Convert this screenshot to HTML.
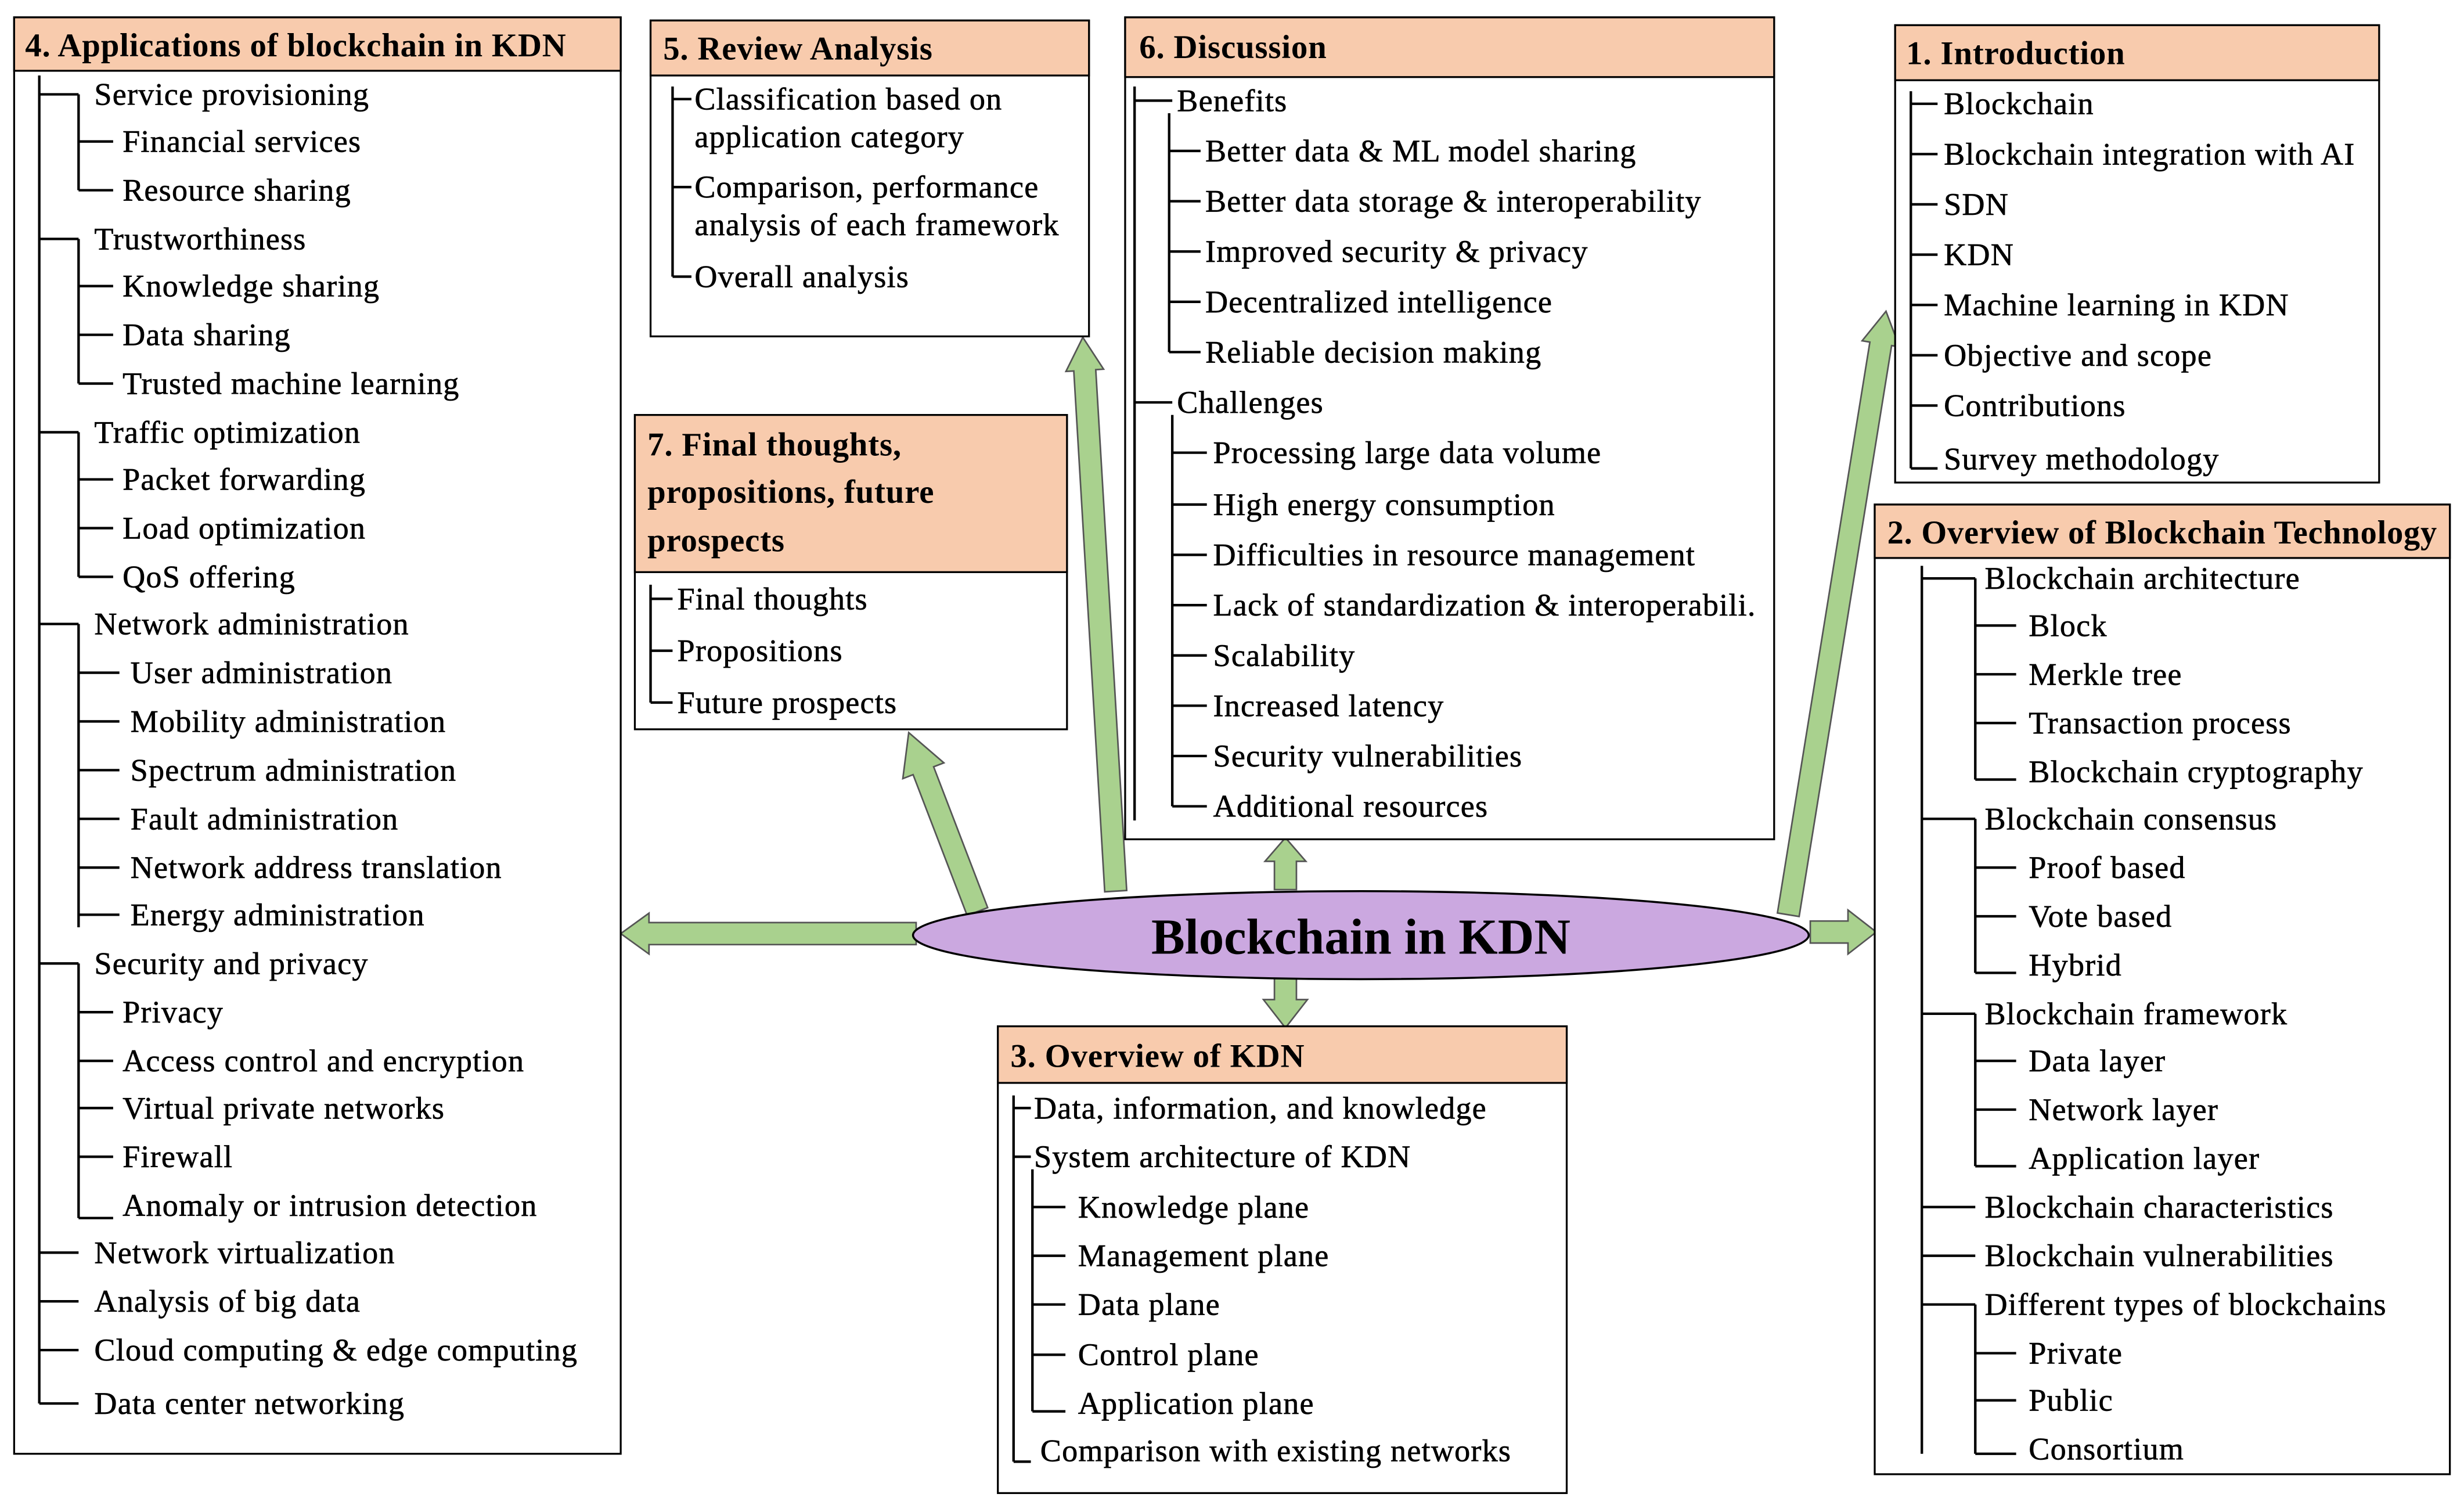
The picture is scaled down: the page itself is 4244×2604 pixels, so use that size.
<!DOCTYPE html>
<html><head><meta charset="utf-8"><style>
html,body{margin:0;padding:0;background:#fff}
svg{display:block}
text{font-family:"Liberation Serif",serif;fill:#000}
.t{font-size:20px;letter-spacing:0.45px;dominant-baseline:central;stroke:#000;stroke-width:0.25}
.h{font-size:21px;letter-spacing:0.3px;font-weight:bold;dominant-baseline:central}
.l{stroke:#000;stroke-width:1.6;fill:none}
.box{fill:#fff;stroke:#000;stroke-width:1.2}
.hd{fill:#f8cbad;stroke:#000;stroke-width:1.2}
.ar{fill:#a9d18e;stroke:#555;stroke-width:1}
</style></head><body>
<svg width="4244" height="2604" viewBox="0 0 1568 962" xmlns="http://www.w3.org/2000/svg">
<g>
<g transform="translate(583,594) rotate(180)"><polygon class="ar" points="0,-7 170,-7 170,-13 188,0 170,13 170,7 0,7"/></g>
<g transform="translate(1152,593)"><polygon class="ar" points="0,-7 24,-7 24,-14 42,0 24,14 24,7 0,7"/></g>
<g transform="translate(818,566) rotate(-90)"><polygon class="ar" points="0,-7 18,-7 18,-13 33,0 18,13 18,7 0,7"/></g>
<g transform="translate(818,622) rotate(90)"><polygon class="ar" points="0,-7 14,-7 14,-14 32,0 14,14 14,7 0,7"/></g>
<g transform="translate(622,580) rotate(-111)"><polygon class="ar" points="0,-7 96,-7 96,-14 122,0 96,14 96,7 0,7"/></g>
<g transform="translate(710,567) rotate(-93.4)"><polygon class="ar" points="0,-7 332,-7 332,-12 353,0 332,12 332,7 0,7"/></g>
<g transform="translate(1138,582) rotate(-80.8)"><polygon class="ar" points="0,-7 368,-7 368,-12 389,0 368,12 368,7 0,7"/></g>
</g>
<ellipse cx="866" cy="595" rx="285" ry="28" fill="#cba8e0" stroke="#000" stroke-width="1.3"/>
<text x="866" y="596" text-anchor="middle" style="font-size:32px;font-weight:bold;dominant-baseline:central">Blockchain in KDN</text>

<rect class="box" x="9" y="11" width="386" height="914"/>
<rect class="hd" x="9" y="11" width="386" height="34"/>
<text class="h" x="16" y="29">4. Applications of blockchain in KDN</text>
<path class="l" d="M25 48V893 M25 60H50 M50 60V121 M50 90H72 M50 121H72
M25 152H50 M50 152V244 M50 182H72 M50 213H72 M50 244H72
M25 275H50 M50 275V367 M50 305H72 M50 336H72 M50 367H72
M25 397H50 M50 397V590 M50 428H76 M50 459H76 M50 490H76 M50 521H76 M50 552H76 M50 582H76
M25 613H50 M50 613V775 M50 644H72 M50 675H72 M50 705H72 M50 736H72 M50 775H72
M25 797H50 M25 828H50 M25 859H50 M25 893H50"/>
<text class="t" x="60" y="60">Service provisioning</text>
<text class="t" x="78" y="90">Financial services</text>
<text class="t" x="78" y="121">Resource sharing</text>
<text class="t" x="60" y="152">Trustworthiness</text>
<text class="t" x="78" y="182">Knowledge sharing</text>
<text class="t" x="78" y="213">Data sharing</text>
<text class="t" x="78" y="244">Trusted machine learning</text>
<text class="t" x="60" y="275">Traffic optimization</text>
<text class="t" x="78" y="305">Packet forwarding</text>
<text class="t" x="78" y="336">Load optimization</text>
<text class="t" x="78" y="367">QoS offering</text>
<text class="t" x="60" y="397">Network administration</text>
<text class="t" x="83" y="428">User administration</text>
<text class="t" x="83" y="459">Mobility administration</text>
<text class="t" x="83" y="490">Spectrum administration</text>
<text class="t" x="83" y="521">Fault administration</text>
<text class="t" x="83" y="552">Network address translation</text>
<text class="t" x="83" y="582">Energy administration</text>
<text class="t" x="60" y="613">Security and privacy</text>
<text class="t" x="78" y="644">Privacy</text>
<text class="t" x="78" y="675">Access control and encryption</text>
<text class="t" x="78" y="705">Virtual private networks</text>
<text class="t" x="78" y="736">Firewall</text>
<text class="t" x="78" y="767">Anomaly or intrusion detection</text>
<text class="t" x="60" y="797">Network virtualization</text>
<text class="t" x="60" y="828">Analysis of big data</text>
<text class="t" x="60" y="859">Cloud computing &amp; edge computing</text>
<text class="t" x="60" y="893">Data center networking</text>

<rect class="box" x="414" y="13" width="279" height="201"/>
<rect class="hd" x="414" y="13" width="279" height="35"/>
<text class="h" x="422" y="31">5. Review Analysis</text>
<path class="l" d="M428 55V176 M428 63H440 M428 119H440 M428 176H440"/>
<text class="t" x="442" y="63">Classification based on</text>
<text class="t" x="442" y="87">application category</text>
<text class="t" x="442" y="119">Comparison, performance</text>
<text class="t" x="442" y="143">analysis of each framework</text>
<text class="t" x="442" y="176">Overall analysis</text>

<rect class="box" x="404" y="264" width="275" height="200"/>
<rect class="hd" x="404" y="264" width="275" height="100"/>
<text class="h" x="412" y="283">7. Final thoughts,</text>
<text class="h" x="412" y="313">propositions, future</text>
<text class="h" x="412" y="344">prospects</text>
<path class="l" d="M414 372V447 M414 381H428 M414 414H428 M414 447H428"/>
<text class="t" x="431" y="381">Final thoughts</text>
<text class="t" x="431" y="414">Propositions</text>
<text class="t" x="431" y="447">Future prospects</text>

<rect class="box" x="716" y="11" width="413" height="523"/>
<rect class="hd" x="716" y="11" width="413" height="38"/>
<text class="h" x="725" y="30">6. Discussion</text>
<path class="l" d="M722 55V522 M722 64H746 M722 256H746
M744 72V224 M744 96H764 M744 128H764 M744 160H764 M744 192H764 M744 224H764
M746 264V513 M746 288H768 M746 321H768 M746 353H768 M746 385H768 M746 417H768 M746 449H768 M746 481H768 M746 513H768"/>
<text class="t" x="749" y="64">Benefits</text>
<text class="t" x="767" y="96">Better data &amp; ML model sharing</text>
<text class="t" x="767" y="128">Better data storage &amp; interoperability</text>
<text class="t" x="767" y="160">Improved security &amp; privacy</text>
<text class="t" x="767" y="192">Decentralized intelligence</text>
<text class="t" x="767" y="224">Reliable decision making</text>
<text class="t" x="749" y="256">Challenges</text>
<text class="t" x="772" y="288">Processing large data volume</text>
<text class="t" x="772" y="321">High energy consumption</text>
<text class="t" x="772" y="353">Difficulties in resource management</text>
<text class="t" x="772" y="385">Lack of standardization &amp; interoperabili.</text>
<text class="t" x="772" y="417">Scalability</text>
<text class="t" x="772" y="449">Increased latency</text>
<text class="t" x="772" y="481">Security vulnerabilities</text>
<text class="t" x="772" y="513">Additional resources</text>

<rect class="box" x="1206" y="16" width="308" height="291"/>
<rect class="hd" x="1206" y="16" width="308" height="35"/>
<text class="h" x="1213" y="34">1. Introduction</text>
<path class="l" d="M1216 58V298 M1216 66H1233 M1216 98H1233 M1216 130H1233 M1216 162H1233 M1216 194H1233 M1216 226H1233 M1216 258H1233 M1216 298H1233"/>
<text class="t" x="1237" y="66">Blockchain</text>
<text class="t" x="1237" y="98">Blockchain integration with AI</text>
<text class="t" x="1237" y="130">SDN</text>
<text class="t" x="1237" y="162">KDN</text>
<text class="t" x="1237" y="194">Machine learning in KDN</text>
<text class="t" x="1237" y="226">Objective and scope</text>
<text class="t" x="1237" y="258">Contributions</text>
<text class="t" x="1237" y="292">Survey methodology</text>

<rect class="box" x="1193" y="321" width="366" height="617"/>
<rect class="hd" x="1193" y="321" width="366" height="34"/>
<text class="h" x="1201" y="339" textLength="350" lengthAdjust="spacingAndGlyphs">2. Overview of Blockchain Technology</text>
<path class="l" d="M1223 360V925 M1223 368H1257 M1257 368V496 M1257 398H1283 M1257 429H1283 M1257 460H1283 M1257 496H1283
M1223 521H1257 M1257 521V619 M1257 552H1283 M1257 583H1283 M1257 619H1283
M1223 645H1257 M1257 645V742 M1257 675H1283 M1257 706H1283 M1257 742H1283
M1223 768H1257 M1223 799H1257 M1223 830H1257 M1257 830V925 M1257 861H1283 M1257 891H1283 M1257 925H1283"/>
<text class="t" x="1263" y="368">Blockchain architecture</text>
<text class="t" x="1291" y="398">Block</text>
<text class="t" x="1291" y="429">Merkle tree</text>
<text class="t" x="1291" y="460">Transaction process</text>
<text class="t" x="1291" y="491">Blockchain cryptography</text>
<text class="t" x="1263" y="521">Blockchain consensus</text>
<text class="t" x="1291" y="552">Proof based</text>
<text class="t" x="1291" y="583">Vote based</text>
<text class="t" x="1291" y="614">Hybrid</text>
<text class="t" x="1263" y="645">Blockchain framework</text>
<text class="t" x="1291" y="675">Data layer</text>
<text class="t" x="1291" y="706">Network layer</text>
<text class="t" x="1291" y="737">Application layer</text>
<text class="t" x="1263" y="768">Blockchain characteristics</text>
<text class="t" x="1263" y="799">Blockchain vulnerabilities</text>
<text class="t" x="1263" y="830">Different types of blockchains</text>
<text class="t" x="1291" y="861">Private</text>
<text class="t" x="1291" y="891">Public</text>
<text class="t" x="1291" y="922">Consortium</text>

<rect class="box" x="635" y="653" width="362" height="297"/>
<rect class="hd" x="635" y="653" width="362" height="36"/>
<text class="h" x="643" y="672">3. Overview of KDN</text>
<path class="l" d="M645 697V930 M645 705H656 M645 736H656 M645 930H656
M657 744V898 M657 768H678 M657 799H678 M657 830H678 M657 862H678 M657 898H678"/>
<text class="t" x="658" y="705">Data, information, and knowledge</text>
<text class="t" x="658" y="736">System architecture of KDN</text>
<text class="t" x="686" y="768">Knowledge plane</text>
<text class="t" x="686" y="799">Management plane</text>
<text class="t" x="686" y="830">Data plane</text>
<text class="t" x="686" y="862">Control plane</text>
<text class="t" x="686" y="893">Application plane</text>
<text class="t" x="662" y="923">Comparison with existing networks</text>
</svg>
</body></html>
